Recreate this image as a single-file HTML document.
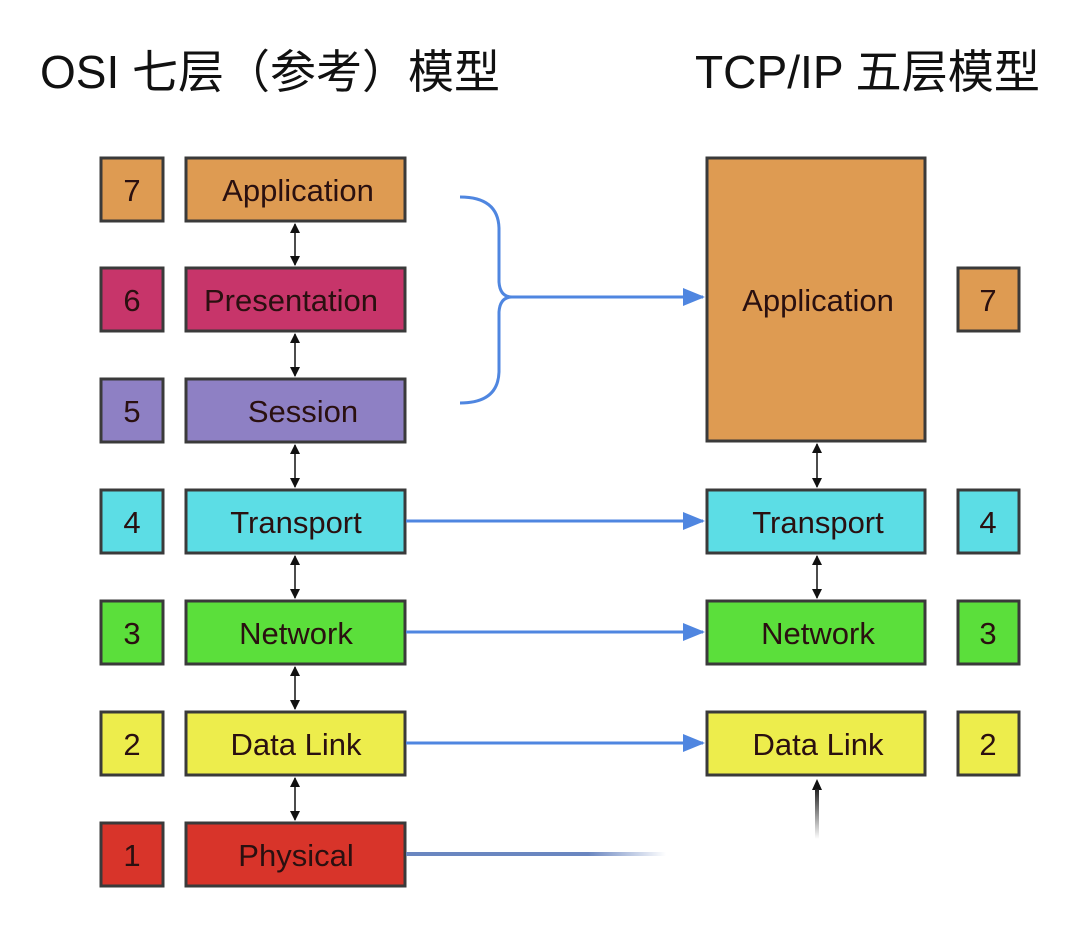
<!DOCTYPE html>
<html><head><meta charset="utf-8"><style>
body{margin:0;background:#fff;}
svg{display:block}
text{font-family:"Liberation Sans","Noto Sans CJK SC",sans-serif;}
</style></head><body>
<svg width="1080" height="932" viewBox="0 0 1080 932" xmlns="http://www.w3.org/2000/svg">
<defs>
<marker id="bk" markerWidth="10" markerHeight="10" refX="9" refY="5" orient="auto-start-reverse" markerUnits="userSpaceOnUse"><path d="M0,0 L10,5 L0,10 z" fill="#111"/></marker>
<marker id="bl" markerWidth="22" markerHeight="18" refX="20" refY="9" orient="auto" markerUnits="userSpaceOnUse"><path d="M0,0 L22,9 L0,18 z" fill="#4f86e0"/></marker>
<linearGradient id="fade" x1="0" x2="1"><stop offset="0" stop-color="#6a86c0"/><stop offset="0.7" stop-color="#6a86c0"/><stop offset="1" stop-color="#6a86c0" stop-opacity="0"/></linearGradient>
<linearGradient id="vf" x1="0" y1="0" x2="0" y2="1"><stop offset="0" stop-color="#222"/><stop offset="1" stop-color="#222" stop-opacity="0"/></linearGradient>
</defs>
<text x="40" y="88" font-size="46" fill="#111" textLength="460" lengthAdjust="spacingAndGlyphs">OSI 七层（参考）模型</text>
<text x="695" y="88" font-size="46" fill="#111" textLength="345" lengthAdjust="spacingAndGlyphs">TCP/IP 五层模型</text>
<g stroke="#3a3a3a" stroke-width="3">
<rect x="101" y="158" width="62" height="63" fill="#de9b52"/>
<rect x="186" y="158" width="219" height="63" fill="#de9b52"/>
<rect x="101" y="268" width="62" height="63" fill="#c7356a"/>
<rect x="186" y="268" width="219" height="63" fill="#c7356a"/>
<rect x="101" y="379" width="62" height="63" fill="#8e80c4"/>
<rect x="186" y="379" width="219" height="63" fill="#8e80c4"/>
<rect x="101" y="490" width="62" height="63" fill="#5cdde5"/>
<rect x="186" y="490" width="219" height="63" fill="#5cdde5"/>
<rect x="101" y="601" width="62" height="63" fill="#5bdf3b"/>
<rect x="186" y="601" width="219" height="63" fill="#5bdf3b"/>
<rect x="101" y="712" width="62" height="63" fill="#eded4c"/>
<rect x="186" y="712" width="219" height="63" fill="#eded4c"/>
<rect x="101" y="823" width="62" height="63" fill="#d8342a"/>
<rect x="186" y="823" width="219" height="63" fill="#d8342a"/>
<rect x="707" y="158" width="218" height="283" fill="#de9b52"/>
<rect x="707" y="490" width="218" height="63" fill="#5cdde5"/>
<rect x="707" y="601" width="218" height="63" fill="#5bdf3b"/>
<rect x="707" y="712" width="218" height="63" fill="#eded4c"/>
<rect x="958" y="268" width="61" height="63" fill="#de9b52"/>
<rect x="958" y="490" width="61" height="63" fill="#5cdde5"/>
<rect x="958" y="601" width="61" height="63" fill="#5bdf3b"/>
<rect x="958" y="712" width="61" height="63" fill="#eded4c"/>
</g>
<g font-size="31" fill="#2a1010" text-anchor="middle">
<text x="132" y="201">7</text><text x="298" y="201">Application</text>
<text x="132" y="311">6</text><text x="291" y="311">Presentation</text>
<text x="132" y="422">5</text><text x="303" y="422">Session</text>
<text x="132" y="533">4</text><text x="296" y="533">Transport</text>
<text x="132" y="644">3</text><text x="296" y="644">Network</text>
<text x="132" y="755">2</text><text x="296" y="755">Data Link</text>
<text x="132" y="866">1</text><text x="296" y="866">Physical</text>
<text x="818" y="311">Application</text>
<text x="818" y="533">Transport</text>
<text x="818" y="644">Network</text>
<text x="818" y="755">Data Link</text>
<text x="988" y="311">7</text><text x="988" y="533">4</text><text x="988" y="644">3</text><text x="988" y="755">2</text>
</g>
<g stroke="#111" stroke-width="1.5" marker-start="url(#bk)" marker-end="url(#bk)">
<line x1="295" y1="224" x2="295" y2="265"/>
<line x1="295" y1="334" x2="295" y2="376"/>
<line x1="295" y1="445" x2="295" y2="487"/>
<line x1="295" y1="556" x2="295" y2="598"/>
<line x1="295" y1="667" x2="295" y2="709"/>
<line x1="295" y1="778" x2="295" y2="820"/>
<line x1="817" y1="444" x2="817" y2="487"/>
<line x1="817" y1="556" x2="817" y2="598"/>
</g>
<path d="M817,779 L812,790 L822,790 z" fill="#111"/>
<rect x="815" y="789" width="4" height="50" fill="url(#vf)"/>
<path d="M460,197 Q498,197 499,228 L499,282 Q500,297 512,297 Q500,297 499,312 L499,372 Q498,403 460,403" fill="none" stroke="#4f86e0" stroke-width="3"/>
<g stroke="#4f86e0" stroke-width="3" marker-end="url(#bl)">
<line x1="512" y1="297" x2="703" y2="297"/>
<line x1="406" y1="521" x2="703" y2="521"/>
<line x1="406" y1="632" x2="703" y2="632"/>
<line x1="406" y1="743" x2="703" y2="743"/>
</g>
<rect x="406" y="852" width="260" height="4" fill="url(#fade)"/>
</svg>
</body></html>
